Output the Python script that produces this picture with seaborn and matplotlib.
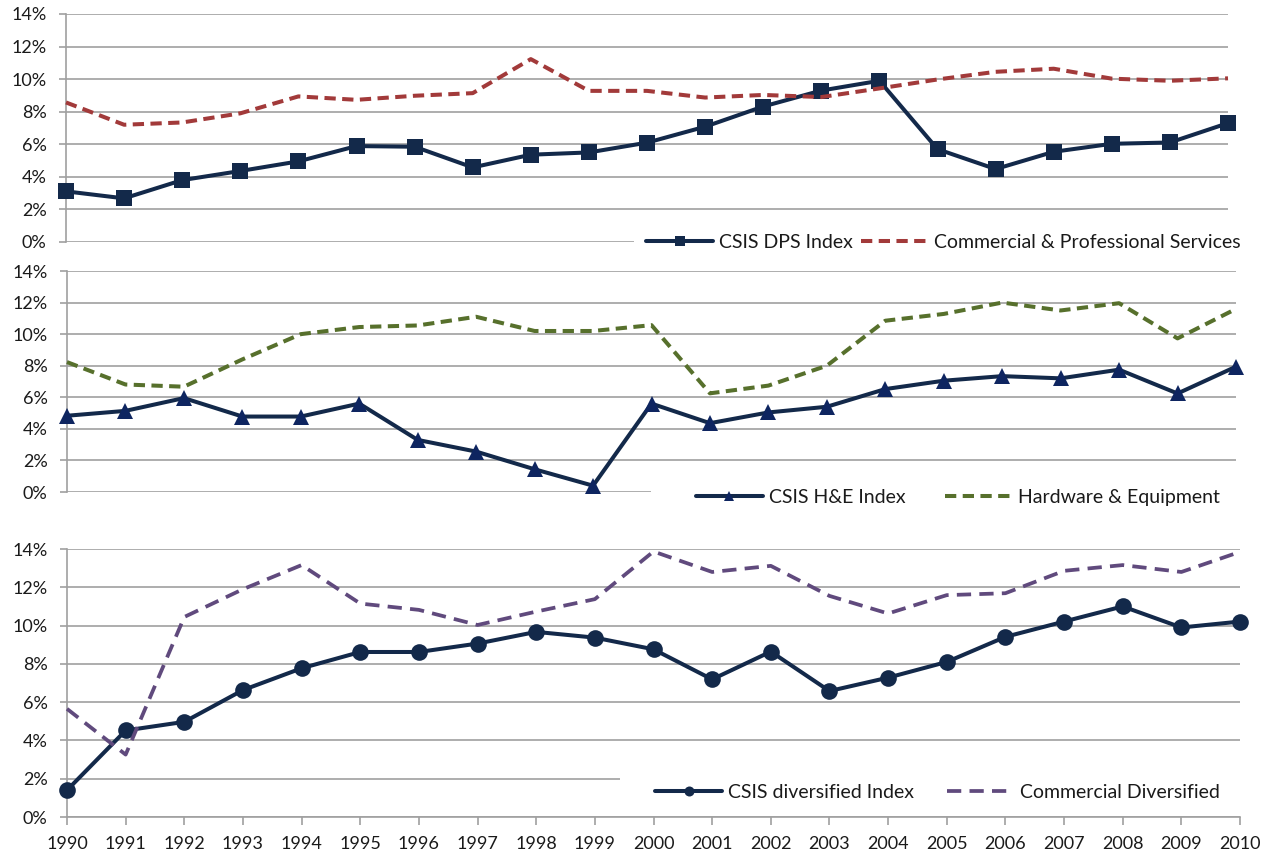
import matplotlib
matplotlib.use("Agg")
import matplotlib.pyplot as plt
import seaborn as sns
import pandas as pd
from matplotlib.patches import Rectangle

# ---------------- data ----------------
years = list(range(1990, 2011))
dps_index = [3.11, 2.68, 3.80, 4.36, 4.95, 5.89, 5.85, 4.58, 5.36, 5.50, 6.10,
             7.08, 8.32, 9.30, 9.90, 5.70, 4.48, 5.54, 6.03, 6.11, 7.30]
comm_prof = [8.57, 7.20, 7.34, 7.90, 8.94, 8.73, 8.98, 9.14, 11.23, 9.28, 9.28,
             8.87, 9.03, 8.90, 9.43, 9.98, 10.45, 10.64, 10.03, 9.90, 10.05]
he_index = [4.83, 5.14, 5.95, 4.78, 4.78, 5.60, 3.30, 2.56, 1.44, 0.40, 5.60,
            4.36, 5.04, 5.40, 6.52, 7.05, 7.34, 7.20, 7.75, 6.24, 7.94]
hw_equip = [8.23, 6.81, 6.67, 8.40, 10.00, 10.45, 10.55, 11.10, 10.20, 10.20, 10.57,
            6.25, 6.74, 8.00, 10.85, 11.28, 12.00, 11.50, 11.96, 9.73, 11.60]
div_index = [1.40, 4.52, 4.97, 6.63, 7.77, 8.62, 8.62, 9.06, 9.67, 9.37, 8.76,
             7.19, 8.64, 6.58, 7.28, 8.10, 9.41, 10.21, 11.00, 9.90, 10.21]
comm_div = [5.65, 3.26, 10.45, 11.90, 13.16, 11.15, 10.82, 10.03, 10.73, 11.38, 13.87,
            12.80, 13.12, 11.55, 10.63, 11.59, 11.69, 12.86, 13.16, 12.80, 13.85]
y_ticks = [0, 2, 4, 6, 8, 10, 12, 14]
y_tick_labels = ["0%", "2%", "4%", "6%", "8%", "10%", "12%", "14%"]
year_labels = [str(y) for y in years]

labels1 = ["CSIS DPS Index", "Commercial & Professional Services"]
labels2 = ["CSIS H&E Index", "Hardware & Equipment"]
labels3 = ["CSIS diversified Index", "Commercial Diversified"]

# ---------------- style ----------------
sns.set_style("white")
plt.rcParams["font.family"] = ["Lato", "DejaVu Sans"]
FS = 13
LFS = 14
GRID = "#a0a0a0"
NAVY = "#13294a"
TRI = "#0e2560"
RED = "#a23a3a"
GREEN = "#57702c"
PURPLE = "#604a7d"
TXT = "#1a1a1a"

W, H = 1272, 855
fig = plt.figure(figsize=(W / 100, H / 100), dpi=100)


def axes_px(x0, x1, ytop, ybot):
    return fig.add_axes([x0 / W, 1 - ybot / H, (x1 - x0) / W, (ybot - ytop) / H])


ax1 = axes_px(66, 1228, 14, 242)
ax2 = axes_px(67, 1236, 271, 492)
ax3 = axes_px(67, 1240, 549, 817)

df = pd.DataFrame({"year": years, "dps": dps_index, "cps": comm_prof,
                   "he": he_index, "hw": hw_equip, "div": div_index, "cdiv": comm_div})

LW = 2.9
line_kw = dict(clip_on=False, zorder=3)

# panel 1
sns.lineplot(data=df, x="year", y="dps", ax=ax1, color=NAVY, lw=LW, marker="s",
             markersize=11, markeredgewidth=0, label=labels1[0], **line_kw)
sns.lineplot(data=df, x="year", y="cps", ax=ax1, color=RED, lw=LW,
             linestyle=(0, (2.8, 1.6)), label=labels1[1], **line_kw)
# panel 2
sns.lineplot(data=df, x="year", y="he", ax=ax2, color=NAVY, lw=LW, marker="^",
             markersize=12, markerfacecolor=TRI, markeredgewidth=0, label=labels2[0], **line_kw)
sns.lineplot(data=df, x="year", y="hw", ax=ax2, color=GREEN, lw=LW,
             linestyle=(0, (2.8, 1.6)), label=labels2[1], **line_kw)
# panel 3
sns.lineplot(data=df, x="year", y="div", ax=ax3, color=NAVY, lw=LW, marker="o",
             markersize=12, markeredgewidth=0, label=labels3[0], **line_kw)
sns.lineplot(data=df, x="year", y="cdiv", ax=ax3, color=PURPLE, lw=2.7,
             linestyle=(0, (3.8, 2.2)), label=labels3[1], **line_kw)

for ax in (ax1, ax2, ax3):
    ax.set_xlim(1990, 2010)
    ax.set_ylim(0, 14)
    ax.set_yticks(y_ticks)
    ax.set_yticklabels(y_tick_labels)
    ax.grid(axis="y", color=GRID, lw=1.2)
    ax.grid(axis="x", visible=False)
    ax.set_axisbelow(True)
    ax.set_xlabel("")
    ax.set_ylabel("")
    for s in ("top", "right"):
        ax.spines[s].set_visible(False)
    ax.spines["left"].set_color(GRID)
    ax.spines["left"].set_linewidth(1.2)
    ax.spines["bottom"].set_color(GRID)
    ax.spines["bottom"].set_linewidth(1.2)
    ax.tick_params(axis="y", length=5, width=1.2, color=GRID, pad=9,
                   labelsize=FS, labelcolor=TXT, direction="out", left=True)
    ax.patch.set_alpha(0)

for ax in (ax1, ax2):
    ax.tick_params(axis="x", bottom=False, labelbottom=False)
    ax.spines["bottom"].set_visible(False)

ax3.set_xticks(years)
ax3.set_xticklabels(year_labels)
ax3.tick_params(axis="x", length=6, width=1.2, color=GRID, pad=8,
                labelsize=FS, labelcolor=TXT, direction="out", bottom=True)

# white areas behind legends (Excel legend boxes hide grid segments)
ax1.add_patch(Rectangle((0.489, -0.04), 0.53, 0.08, transform=ax1.transAxes,
                        facecolor="white", edgecolor="none", zorder=1, clip_on=False))
ax2.add_patch(Rectangle((0.4996, -0.05), 0.53, 0.09, transform=ax2.transAxes,
                        facecolor="white", edgecolor="none", zorder=1, clip_on=False))
ax3.add_patch(Rectangle((0.4714, 0.03), 0.55, 0.17, transform=ax3.transAxes,
                        facecolor="white", edgecolor="none", zorder=1, clip_on=False))


def make_legend(ax, right_px, cy_px, colsp):
    h, l = ax.get_legend_handles_labels()
    leg = ax.legend(h, l, loc="center right",
                    bbox_to_anchor=(right_px / W, 1 - cy_px / H),
                    bbox_transform=fig.transFigure, ncol=2, frameon=True,
                    facecolor="white", edgecolor="none", framealpha=1, fancybox=False,
                    fontsize=LFS, handlelength=3.45, handletextpad=0.3,
                    columnspacing=colsp, borderpad=0.25, markerscale=0.6,
                    borderaxespad=0)
    for t in leg.get_texts():
        t.set_color(TXT)
    return leg


make_legend(ax1, 1245, 242, 0.4)
make_legend(ax2, 1225, 497, 2.05)
make_legend(ax3, 1225, 792, 1.7)

fig.savefig("out.png", dpi=100)
